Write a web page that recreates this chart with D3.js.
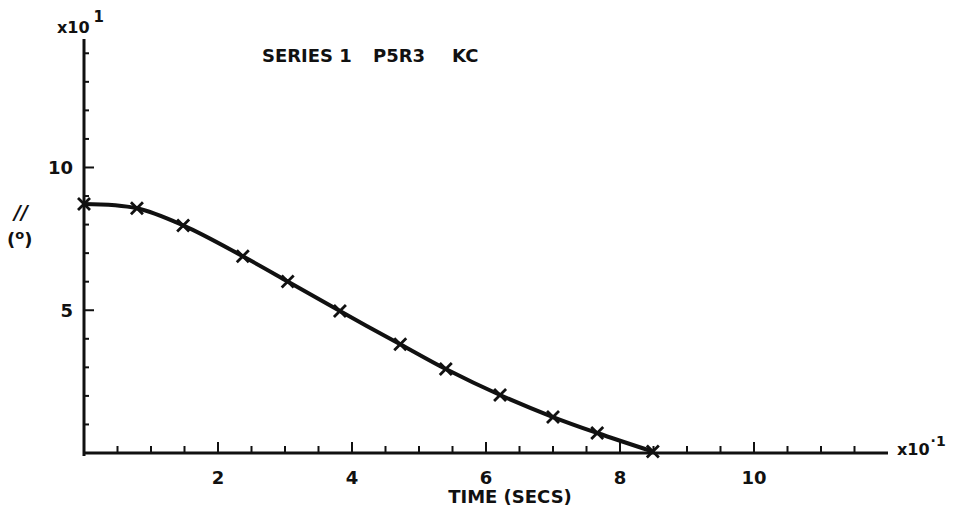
<!DOCTYPE html>
<html>
<head>
<meta charset="utf-8">
<script src="https://cdn.jsdelivr.net/npm/d3@7"></script>
<style>
  html, body { margin: 0; padding: 0; background: #fff; }
  svg { display: block; }
  text { font-family: "DejaVu Sans", "Liberation Sans", Arial, sans-serif; font-weight: bold; fill: #111; }
</style>
</head>
<body>
<svg id="chart" width="954" height="515"></svg>
<script>
// ---- data ----
const timeVals  = [0.0, 0.79, 1.48, 2.37, 3.04, 3.82, 4.72, 5.40, 6.21, 7.00, 7.66, 8.49];   // x10^-1 s
const angleVals = [8.72, 8.57, 7.97, 6.89, 6.01, 4.97, 3.81, 2.94, 2.03, 1.26, 0.70, 0.05]; // x10^1 deg
const xTickLabels = [2, 4, 6, 8, 10];
const yTickLabels = [5, 10];
const titleParts = ["SERIES 1", "P5R3", "KC"];

const svg = d3.select("#chart");
const x = d3.scaleLinear().domain([0, 12]).range([84, 888]);
const y = d3.scaleLinear().domain([0, 14.5]).range([453, 39]);
const ink = "#111";

// axes lines
svg.append("line").attr("x1", x(0)).attr("x2", x(0)).attr("y1", y(14.5)).attr("y2", y(0) + 3)
  .attr("stroke", ink).attr("stroke-width", 3);
svg.append("line").attr("x1", x(0) - 1).attr("x2", x(12)).attr("y1", y(0)).attr("y2", y(0))
  .attr("stroke", ink).attr("stroke-width", 3);

// x ticks: minor every 0.5, major every 2
const xMinor = d3.range(0.5, 11.51, 0.5);
svg.selectAll(".xt").data(xMinor).join("line")
  .attr("x1", d => x(d)).attr("x2", d => x(d))
  .attr("y1", y(0)).attr("y2", d => y(0) - (d % 2 === 0 ? 11 : 7))
  .attr("stroke", ink).attr("stroke-width", 2);

// y ticks: every 1, major at 5, 10
const yMinor = d3.range(1, 14.01, 1);
svg.selectAll(".yt").data(yMinor).join("line")
  .attr("x1", x(0)).attr("x2", d => x(0) + (d % 5 === 0 ? 10 : 5))
  .attr("y1", d => y(d)).attr("y2", d => y(d))
  .attr("stroke", ink).attr("stroke-width", 2);

// tick labels
svg.selectAll(".xl").data(xTickLabels).join("text")
  .attr("x", d => x(d)).attr("y", 484).attr("text-anchor", "middle")
  .attr("font-size", 18).text(d => d);
svg.selectAll(".yl").data(yTickLabels).join("text")
  .attr("x", 73).attr("y", d => y(d) + 7).attr("text-anchor", "end")
  .attr("font-size", 18).text(d => d);

// curve
const pts = timeVals.map((t, i) => [t, angleVals[i]]);
const line = d3.line().x(d => x(d[0])).y(d => y(d[1])).curve(d3.curveCatmullRom.alpha(0.5));
svg.append("path").datum(pts).attr("d", line)
  .attr("fill", "none").attr("stroke", ink).attr("stroke-width", 4).attr("stroke-linecap", "round");

// x markers
const m = 6;
const mk = svg.selectAll(".mk").data(pts).join("g")
  .attr("transform", d => `translate(${x(d[0])},${y(d[1])})`);
mk.append("path").attr("d", `M${-m},${-m}L${m},${m}M${-m},${m}L${m},${-m}`)
  .attr("stroke", ink).attr("stroke-width", 2.8).attr("fill", "none");

// title
const tx = [262, 373, 452];
svg.selectAll(".ti").data(titleParts).join("text")
  .attr("x", (d, i) => tx[i]).attr("y", 62).attr("font-size", 18).text(d => d);

// y multiplier
const ym = svg.append("text").attr("x", 57).attr("y", 33).attr("font-size", 16);
ym.append("tspan").text("x10");
ym.append("tspan").attr("dy", -11).attr("dx", 4).attr("font-size", 15).text("1");

// x multiplier
const xm = svg.append("text").attr("x", 897).attr("y", 455).attr("font-size", 16);
xm.append("tspan").text("x10");
xm.append("tspan").attr("dy", -9).attr("dx", 1).attr("font-size", 14).text("·1");

// y axis label
svg.append("text").attr("x", 21).attr("y", 219).attr("text-anchor", "middle")
  .attr("font-size", 19).attr("font-style", "italic").attr("font-weight", "normal").text("//");
const yl = svg.append("text").attr("x", 7).attr("y", 246).attr("font-size", 18);
yl.append("tspan").text("(");
yl.append("tspan").attr("dy", -7).attr("font-size", 13).text("o");
yl.append("tspan").attr("dy", 7).text(")");

// x axis label
svg.append("text").attr("x", 510).attr("y", 503).attr("text-anchor", "middle")
  .attr("font-size", 18).text("TIME (SECS)");
</script>
</body>
</html>
